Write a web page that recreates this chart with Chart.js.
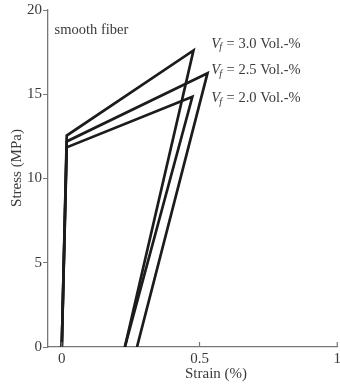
<!DOCTYPE html>
<html>
<head>
<meta charset="utf-8">
<script src="https://cdn.jsdelivr.net/npm/chart.js@4/dist/chart.umd.min.js"></script>
<style>
  body { margin: 0; background: #fff; overflow: hidden; }
  #wrap { width: 340px; height: 386px; overflow: hidden; }
</style>
</head>
<body>
<div id="wrap"><canvas id="chart" width="344" height="386"></canvas></div>
<script>
// values
const strain30 = [0, 0.018, 0.478, 0.229];
const stress30 = [0, 12.55, 17.6, 0];
const strain25 = [0, 0.018, 0.529, 0.273];
const stress25 = [0, 12.2, 16.25, 0];
const strain20 = [0, 0.018, 0.474, 0.229];
const stress20 = [0, 11.85, 14.85, 0];

const seriesLabels = ["3.0", "2.5", "2.0"];
const labelStress = [18.0, 16.4, 14.75];
const xTicks = [0, 0.5, 1];
const yTicks = [0, 5, 10, 15, 20];

const serif = "'Liberation Serif', 'DejaVu Serif', serif";
const ink = "#1c1c1c";
const axisGray = "#777";
const textGray = "#3a3a3a";

function toPoints(xs, ys) {
  return xs.map((x, i) => ({ x: x, y: ys[i] }));
}

function lineSet(xs, ys) {
  return {
    data: toPoints(xs, ys),
    showLine: true,
    borderColor: ink,
    borderWidth: 2.7,
    pointRadius: 0,
    tension: 0,
    borderJoinStyle: "miter",
  };
}

// annotations, inward x ticks and axis titles
const extras = {
  id: "extras",
  afterDraw(chart) {
    const ctx = chart.ctx;
    const xs = chart.scales.x;
    const ys = chart.scales.y;
    ctx.save();

    // x ticks point up into the plot
    ctx.strokeStyle = axisGray;
    ctx.lineWidth = 1.2;
    xTicks.forEach((v) => {
      const px = xs.getPixelForValue(v);
      ctx.beginPath();
      ctx.moveTo(px, ys.bottom);
      ctx.lineTo(px, ys.bottom - 5);
      ctx.stroke();
    });

    ctx.fillStyle = textGray;
    ctx.textBaseline = "middle";

    // "smooth fiber"
    ctx.font = "14.5px " + serif;
    ctx.textAlign = "left";
    ctx.fillText("smooth fiber", xs.getPixelForValue(-0.026), ys.getPixelForValue(18.8));

    // V_f labels
    seriesLabels.forEach((lab, i) => {
      const x0 = xs.getPixelForValue(0.543);
      const y0 = ys.getPixelForValue(labelStress[i]);
      ctx.font = "italic 14.5px " + serif;
      ctx.fillText("V", x0, y0);
      let w = ctx.measureText("V").width;
      ctx.font = "italic 10px " + serif;
      ctx.fillText("f", x0 + w - 1, y0 + 4);
      w += ctx.measureText("f").width;
      ctx.font = "14.5px " + serif;
      ctx.fillText(" = " + lab + " Vol.-%", x0 + w, y0);
    });

    // axis titles
    ctx.font = "15px " + serif;
    ctx.textAlign = "center";
    ctx.fillText("Strain (%)", 216, 374);
    ctx.translate(17, 168);
    ctx.rotate(-Math.PI / 2);
    ctx.fillText("Stress (MPa)", 0, 0);
    ctx.restore();
  },
};

new Chart(document.getElementById("chart"), {
  type: "scatter",
  data: {
    datasets: [
      lineSet(strain30, stress30),
      lineSet(strain25, stress25),
      lineSet(strain20, stress20),
    ],
  },
  options: {
    responsive: false,
    animation: false,
    layout: { padding: { top: 10, right: 0, left: 0, bottom: 0 } },
    plugins: { legend: { display: false }, tooltip: { enabled: false } },
    scales: {
      x: {
        type: "linear",
        min: -0.05,
        max: 1,
        afterBuildTicks: (s) => { s.ticks = xTicks.map((v) => ({ value: v })); },
        afterFit: (s) => { s.height = 39; },
        border: { color: axisGray, width: 1.3 },
        grid: { display: true, drawOnChartArea: false, drawTicks: false },
        ticks: {
          color: textGray,
          padding: 3,
          maxRotation: 0,
          font: { family: serif, size: 15 },
          callback: (v) => String(v),
        },
      },
      y: {
        min: 0,
        max: 20,
        afterBuildTicks: (s) => { s.ticks = yTicks.map((v) => ({ value: v })); },
        afterFit: (s) => { s.width = 48; },
        border: { color: axisGray, width: 1.3 },
        grid: { drawOnChartArea: false, drawTicks: true, tickLength: 5, color: axisGray },
        ticks: {
          color: textGray,
          padding: 1,
          font: { family: serif, size: 15 },
        },
      },
    },
  },
  plugins: [extras],
});
</script>
</body>
</html>
